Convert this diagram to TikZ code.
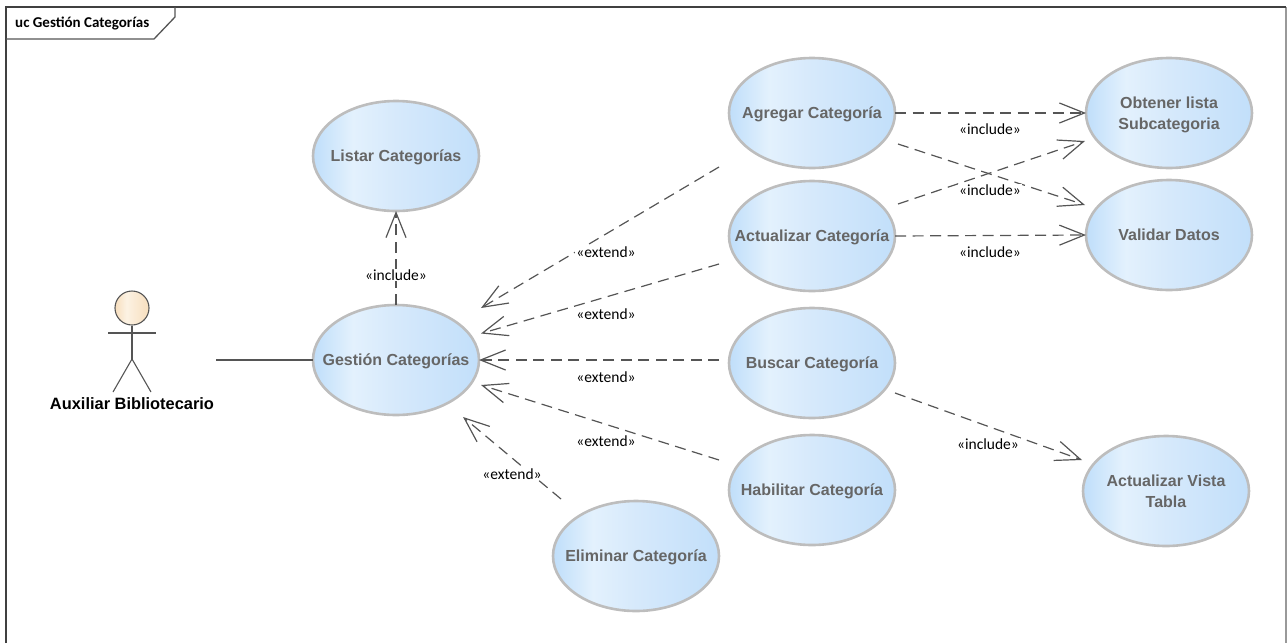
\documentclass[tikz,border=0pt]{standalone}
\usepackage{fontspec}
\setmainfont{Liberation Sans}
\newfontfamily\notefont{Carlito}
\usetikzlibrary{arrows.meta}
\usetikzlibrary{shapes}
\definecolor{ucline}{HTML}{555555}
\definecolor{ucborder}{HTML}{BDBDBD}
\definecolor{uctext}{HTML}{666666}
\definecolor{ucblueA}{HTML}{BFDEFA}
\definecolor{ucblueB}{HTML}{E3F1FD}
\definecolor{ucblueC}{HTML}{D6E9FB}
\definecolor{ucblueD}{HTML}{C2DFFA}
\definecolor{ucheadA}{HTML}{F7DEBD}
\definecolor{ucheadB}{HTML}{FCF2E3}
\pgfdeclarehorizontalshading{ucblue}{100bp}{color(0bp)=(ucblueA); color(25bp)=(ucblueA); color(37bp)=(ucblueB); color(50bp)=(ucblueC); color(75bp)=(ucblueD); color(100bp)=(ucblueD)}
\pgfdeclarehorizontalshading{uchead}{100bp}{color(0bp)=(ucheadA); color(25bp)=(ucheadA); color(42bp)=(ucheadB); color(75bp)=(ucheadA); color(100bp)=(ucheadA)}
\tikzset{
	usecase/.style={ellipse, draw=ucborder, line width=2.6pt, shading=ucblue, minimum width=166pt, minimum height=110pt, inner xsep=-40pt, inner ysep=0pt, outer sep=0pt, text=uctext, font=\fontsize{16}{21}\selectfont\bfseries, align=center, text depth=0pt},
	stereo/.style={fill=white, inner sep=1pt, font=\notefont\fontsize{15.5}{18}\selectfont},
	dep/.style={draw=ucline, line width=1.2pt, dash pattern=on 11pt off 6.5pt, -{Straight Barb[length=25pt, width=20pt, line width=1.2pt]}},
	stick/.style={draw=ucline, line width=1.1pt}
}
\begin{document}
\begin{tikzpicture}[x=1pt, y=-1pt]
			\useasboundingbox (0,0) rectangle (1287,643);
			
			% frame
			\draw[black!40, line width=1.5pt] (1286,7) -- (1286,643);
			\draw[black!75, line width=1.5pt] (6,643) -- (6,7) -- (1286,7);
			\draw[ucline, line width=1.3pt] (6,39) -- (154,39) -- (175,17) -- (175,7);
			\node[anchor=west, inner sep=0pt, font=\notefont\fontsize{15}{18}\selectfont\bfseries] (title) at (15,23) {uc Gestión Categorías};
			
			\node[usecase] (listar) at (396,156) {Listar Categorías};
			\node[usecase] (gestion) at (396,360) {Gestión Categorías};
			\node[usecase] (agregar) at (812,113) {Agregar Categoría};
			\node[usecase] (actualizar) at (812,236) {Actualizar Categoría};
			\node[usecase] (buscar) at (812,363) {Buscar Categoría};
			\node[usecase] (habilitar) at (812,490) {Habilitar Categoría};
			\node[usecase] (eliminar) at (636,556) {Eliminar Categoría};
			\node[usecase] (obtener) at (1169,113) {Obtener lista\\Subcategoria};
			\node[usecase] (validar) at (1169,235) {Validar Datos};
			\node[usecase] (vista) at (1166,491) {Actualizar Vista\\Tabla};
			
			% actor
			\node[circle, draw=ucline, line width=1.1pt, shading=uchead, minimum size=34pt, inner sep=0pt] (head) at (132,308) {};
			\coordinate (hip) at (132,359);
			\coordinate (footl) at (113,392);
			\coordinate (footr) at (151,392);
			\coordinate (arml) at (108,333);
			\coordinate (armr) at (156,333);
			\draw[stick] (head) -- (hip);
			\draw[stick] (arml) -- (armr);
			\draw[stick] (footl) -- (hip) -- (footr);
			\node[font=\fontsize{16.4}{19}\selectfont\bfseries] (actor) at (132,404) {Auxiliar Bibliotecario};
			\coordinate (assoc) at (216,360);
			\draw[draw=ucline, line width=1.3pt] (assoc) -- (gestion.west);
			
			% free ends
			\coordinate (g1) at (481,308);
			\coordinate (g2) at (481,333.5);
			\coordinate (g4) at (481,385);
			\coordinate (g5) at (463,417);
			\coordinate (s1) at (719,167);
			\coordinate (s2) at (719,264);
			\coordinate (s3) at (719,360);
			\coordinate (s4) at (719,460);
			\coordinate (s5) at (561,499);
			\coordinate (a1) at (898,144);
			\coordinate (a2) at (898,204);
			\coordinate (o1) at (1085,141);
			\coordinate (v1) at (1085,205);
			\coordinate (b1) at (895,393);
			\coordinate (t1) at (1082,460);
			
			% for gestion
			\draw[dep] (gestion.north) -- (listar.south);
			\draw[dep] (s1) -- (g1);
			\draw[dep] (s2) -- (g2);
			\draw[dep] (s3) -- (gestion.east);
			\draw[dep] (s4) -- (g4);
			\draw[dep] (s5) -- (g5);
			% for agregar
			\draw[dep] (agregar.east) -- (obtener.west);
			\draw[dep] (a1) -- (v1);
			% for actualizar
			\draw[dep] (a2) -- (o1);
			\draw[dep] (actualizar.east) -- (validar.west);
			% for buscar
			\draw[dep] (b1) -- (t1);
			
			\node[stereo] (inc1) at (396,275) {«include»};
			\node[stereo] (ext1) at (606,252) {«extend»};
			\node[stereo] (ext2) at (606,314) {«extend»};
			\node[stereo] (ext3) at (606,377) {«extend»};
			\node[stereo] (ext4) at (606,441) {«extend»};
			\node[stereo] (ext5) at (512,474) {«extend»};
			\node[stereo] (inc2) at (990,129) {«include»};
			\node[stereo] (inc3) at (990,190) {«include»};
			\node[stereo] (inc4) at (990,252) {«include»};
			\node[stereo] (inc5) at (988,444) {«include»};
		\end{tikzpicture}
\end{document}
